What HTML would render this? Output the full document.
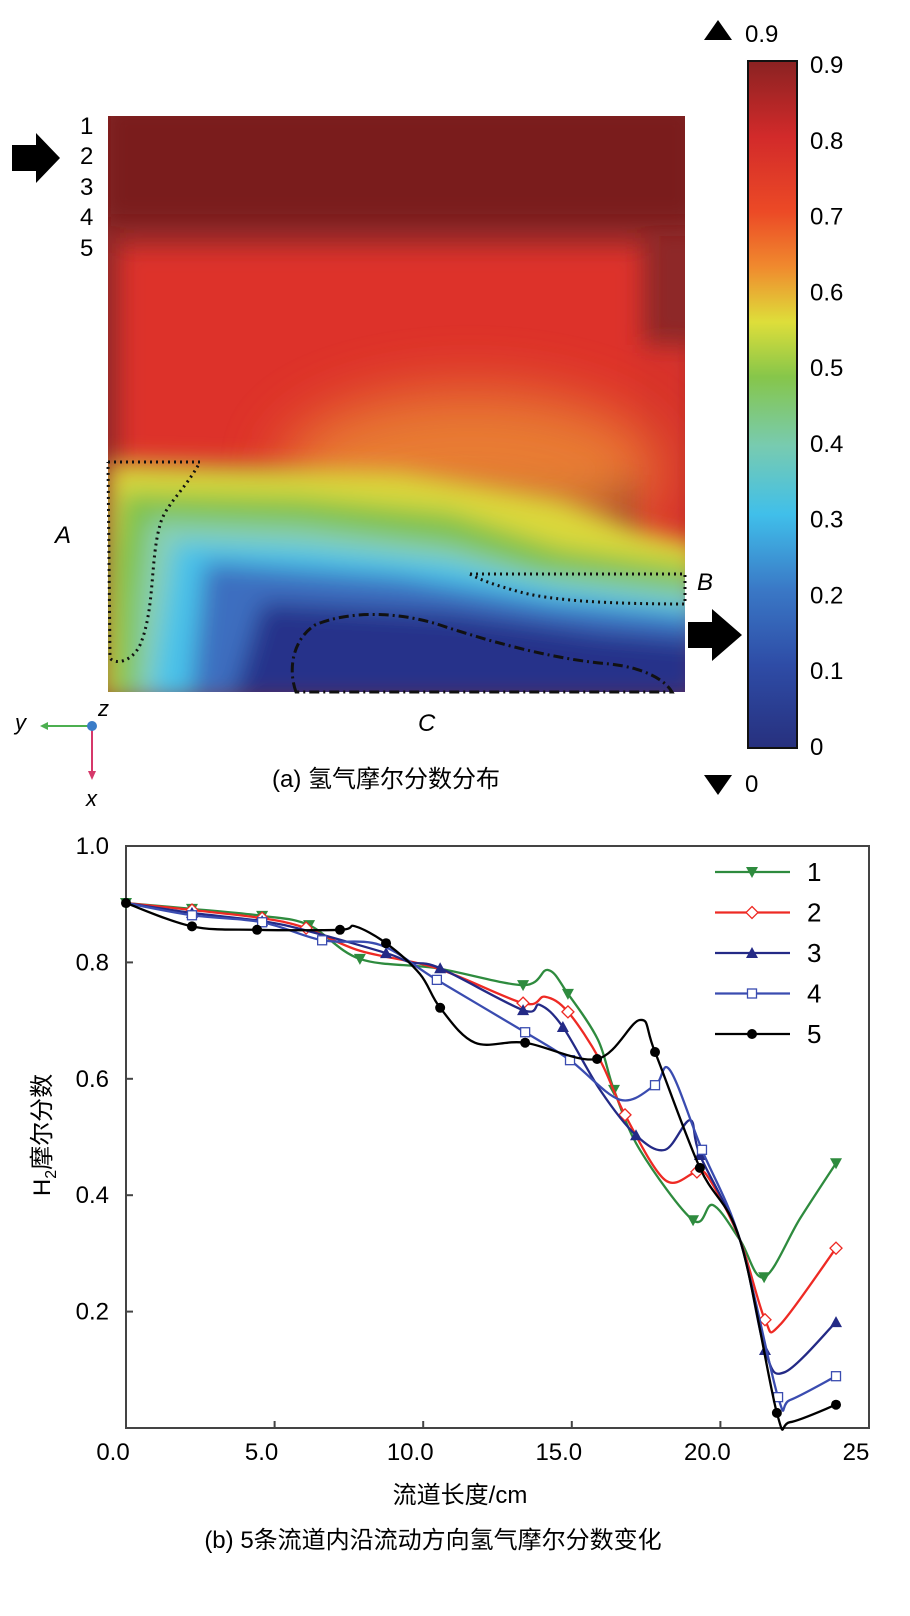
<!DOCTYPE html>
<html><head><meta charset="utf-8">
<style>
html,body{margin:0;padding:0;background:#fff;}
body{width:910px;height:1616px;position:relative;overflow:hidden;font-family:"Liberation Sans","Noto Sans CJK SC",sans-serif;}
svg{position:absolute;left:0;top:0;}
</style></head>
<body>
<svg id="fig" width="910" height="1616" viewBox="0 0 910 1616">
<defs>
<filter id="bl" x="-20%" y="-20%" width="140%" height="140%"><feGaussianBlur stdDeviation="12"/></filter>
<filter id="bl2" x="-50%" y="-50%" width="200%" height="200%"><feGaussianBlur stdDeviation="30"/></filter>
<clipPath id="hc"><rect x="108" y="116" width="577" height="576"/></clipPath>
<linearGradient id="cb" x1="0" y1="0" x2="0" y2="1">
<stop offset="0" stop-color="#8a2222"/>
<stop offset="0.11" stop-color="#d22a2a"/>
<stop offset="0.22" stop-color="#ec4a26"/>
<stop offset="0.3" stop-color="#f08a2e"/>
<stop offset="0.38" stop-color="#dede3a"/>
<stop offset="0.46" stop-color="#86c64a"/>
<stop offset="0.56" stop-color="#78cbb0"/>
<stop offset="0.66" stop-color="#40bfea"/>
<stop offset="0.77" stop-color="#3a78c6"/>
<stop offset="0.88" stop-color="#2e4ca6"/>
<stop offset="1" stop-color="#27307e"/>
</linearGradient>
</defs>

<!-- Heatmap -->
<g clip-path="url(#hc)">
<rect x="108" y="116" width="577" height="576" fill="#8e2828"/>
<g filter="url(#bl)">
<rect x="100" y="100" width="600" height="125" fill="#7a1e1e"/>
<rect x="118" y="245" width="525" height="230" fill="#dd302a"/>
<rect x="635" y="345" width="60" height="230" fill="#d8302a"/>
</g>
<ellipse cx="470" cy="470" rx="190" ry="80" fill="#ea8a36" opacity="0.85" filter="url(#bl2)"/>
<g filter="url(#bl)">
<polygon points="108,462 200,465 400,472 560,500 640,530 700,545 700,700 100,700" fill="#dcd83a"/>
<polygon points="122,492 300,497 450,512 560,548 700,568 700,700 112,700 112,560" fill="#80c24c"/>
<polygon points="150,520 300,526 450,545 540,572 700,590 700,700 135,700 140,600" fill="#88d0b4"/>
<polygon points="175,542 300,547 450,562 560,588 700,606 700,700 150,700" fill="#48c2ea"/>
<polygon points="205,562 400,577 550,602 700,617 700,700 190,700" fill="#3c6ec0"/>
<polygon points="262,602 450,612 600,632 700,640 700,700 232,700" fill="#28318a"/>
</g>
</g>
<g fill="none" stroke="#111" stroke-width="3">
<path stroke-dasharray="2 4" d="M108,462 L200,462 C185,490 165,505 160,525 C150,560 155,610 140,645 C132,662 115,665 110,658 L108,462"/>
<path stroke-dasharray="2 4" d="M470,574 L685,574 L685,604 C640,604 560,603 520,592 C495,585 480,580 470,574"/>
<path stroke-dasharray="10 4 2 4" d="M296,692 C288,670 292,640 315,625 C350,610 400,612 440,625 C500,645 560,660 610,664 C645,668 665,680 672,692 Z"/>
</g>

<g font-size="24" fill="#000">
<text x="80" y="134">1</text><text x="80" y="164">2</text><text x="80" y="195">3</text><text x="80" y="225">4</text><text x="80" y="256">5</text>
</g>
<polygon points="12,145 36,145 36,133 60,158 36,183 36,171 12,171" fill="#000"/>
<polygon points="688,622 712,622 712,609 742,635 712,661 712,648 688,648" fill="#000"/>
<text x="55" y="543" font-size="24" font-style="italic">A</text>
<text x="697" y="590" font-size="24" font-style="italic">B</text>
<text x="418" y="731" font-size="24" font-style="italic">C</text>

<g>
<line x1="92" y1="726" x2="46" y2="726" stroke="#4caf50" stroke-width="2"/>
<polygon points="40,726 48,722 48,730" fill="#4caf50"/>
<line x1="92" y1="726" x2="92" y2="772" stroke="#d6386a" stroke-width="2"/>
<polygon points="92,780 88,771 96,771" fill="#d6386a"/>
<circle cx="92" cy="726" r="5" fill="#3a7cc8"/>
<text x="15" y="730" font-size="22" font-style="italic">y</text>
<text x="98" y="716" font-size="22" font-style="italic">z</text>
<text x="86" y="806" font-size="22" font-style="italic">x</text>
</g>
<text x="272" y="787" font-size="24">(a)  氢气摩尔分数分布</text>

<g>
<rect x="748" y="61" width="49" height="687" fill="url(#cb)" stroke="#111" stroke-width="2"/>
<g id="cbticks" font-size="24"></g>
<polygon points="718,20 704,40 732,40" fill="#000"/>
<text x="745" y="42" font-size="24">0.9</text>
<polygon points="718,795 704,775 732,775" fill="#000"/>
<text x="745" y="792" font-size="24">0</text>
</g>

<g id="chart"></g>
<text transform="translate(50,1135) rotate(-90)" text-anchor="middle" font-size="24">H<tspan font-size="16" dy="6">2</tspan><tspan dy="-6">摩尔分数</tspan></text>
<text x="460" y="1503" text-anchor="middle" font-size="24">流道长度/cm</text>
<text x="433" y="1548" text-anchor="middle" font-size="24">(b) 5条流道内沿流动方向氢气摩尔分数变化</text>
</svg>

<script>
const cbTicks = [0,0.1,0.2,0.3,0.4,0.5,0.6,0.7,0.8,0.9];
const yTicks = [0.2,0.4,0.6,0.8,1.0];
const yTickLabels = ["0.2","0.4","0.6","0.8","1.0"];
const xTicks = [0,5,10,15,20,25];
const xTickLabels = ["0.0","5.0","10.0","15.0","20.0","25"];
const seriesNames = ["1","2","3","4","5"];
const s1x = [0,2.22,4.58,6.16,7.87,10.46,13.36,14.2,14.87,15.88,16.42,17.29,19.08,19.75,20.66,21.47,22.68,23.89];
const s1y = [0.902,0.892,0.880,0.864,0.806,0.790,0.761,0.787,0.746,0.667,0.581,0.478,0.357,0.383,0.323,0.259,0.36,0.455];
const s1m = [1,1,1,1,1,0,1,0,1,0,1,0,1,0,0,1,0,1];
const s2x = [0,2.22,4.58,6.06,7.87,10.46,13.36,14.10,14.87,15.95,16.79,18.14,19.21,19.65,20.66,21.5,22.0,23.89];
const s2y = [0.902,0.890,0.876,0.859,0.82,0.79,0.730,0.741,0.715,0.632,0.538,0.426,0.440,0.426,0.323,0.186,0.177,0.309];
const s2m = [0,1,1,1,0,0,1,0,1,0,1,0,1,0,0,1,0,1];
const s3x = [0,2.22,4.58,6.12,8.75,9.56,10.57,13.36,13.93,14.70,15.95,17.16,18.14,18.98,19.31,20.66,21.5,22.17,23.89];
const s3y = [0.902,0.885,0.871,0.854,0.816,0.80,0.790,0.718,0.727,0.689,0.581,0.503,0.478,0.529,0.469,0.323,0.134,0.096,0.182];
const s3m = [0,1,1,0,1,0,1,1,0,1,0,1,0,0,1,0,1,0,1];
const s4x = [0,2.22,4.58,6.6,8.55,10.46,13.43,14.94,16.62,17.8,18.3,19.38,20.66,21.94,22.34,23.89];
const s4y = [0.902,0.881,0.869,0.838,0.830,0.77,0.680,0.632,0.564,0.589,0.615,0.478,0.323,0.053,0.048,0.089];
const s4m = [0,1,1,1,0,1,1,1,0,1,0,1,0,1,0,1];
const s5x = [0,2.22,4.41,7.2,7.71,8.75,9.89,10.57,11.74,13.43,15.85,17.29,17.8,19.31,20.66,21.9,22.34,23.89];
const s5y = [0.902,0.862,0.856,0.856,0.862,0.833,0.78,0.722,0.662,0.662,0.634,0.701,0.646,0.447,0.323,0.026,0.010,0.040];
const s5m = [1,1,1,1,0,1,0,1,0,1,1,0,1,1,0,1,0,1];

const NS = "http://www.w3.org/2000/svg";
const L = 126, R = 869, T = 846, B = 1428;
function xs(v){ return L + v/25*(R-L); }
function ys(v){ return B - v/1.0*(B-T); }
function mk(tag, attrs, parent){ const e = document.createElementNS(NS, tag); for (const k in attrs) e.setAttribute(k, attrs[k]); parent.appendChild(e); return e; }

const cbg = document.getElementById('cbticks');
cbTicks.forEach(v => {
  const y = 746 - v/0.9*(746-64);
  const t = mk('text', {x: 810, y: y+9}, cbg);
  
  
  t.textContent = v === 0 ? "0" : v.toFixed(1);
});

const ch = document.getElementById('chart');
const frame = mk('rect', {x: L, y: T, width: R-L, height: B-T, fill: 'none', stroke: '#444', 'stroke-width': 2}, ch);


yTicks.forEach((v,i) => {
  const y = ys(v);
  const tk = mk('line', {x1: L, x2: L+7, y1: y, y2: y, stroke: '#444', 'stroke-width': 2}, ch);
  
  
  const t = mk('text', {x: L-17, y: y+8, 'text-anchor': 'end', 'font-size': 24}, ch);
  
  
  t.textContent = yTickLabels[i];
});
xTicks.forEach((v,i) => {
  const x = xs(v);
  const tk = mk('line', {x1: x, x2: x, y1: B, y2: B-7, stroke: '#444', 'stroke-width': 2}, ch);
  
  
  const t = mk('text', {x: x-13, y: B+32, 'text-anchor': 'middle', 'font-size': 24}, ch);
  
  
  t.textContent = xTickLabels[i];
});

function smoothPath(px, py){
  let d = 'M' + px[0] + ',' + py[0];
  for (let i = 0; i < px.length-1; i++){
    const x0 = px[Math.max(i-1,0)], y0 = py[Math.max(i-1,0)];
    const x1 = px[i], y1 = py[i], x2 = px[i+1], y2 = py[i+1];
    const x3 = px[Math.min(i+2,px.length-1)], y3 = py[Math.min(i+2,px.length-1)];
    const c1x = x1 + (x2-x0)/6, c1y = y1 + (y2-y0)/6;
    const c2x = x2 - (x3-x1)/6, c2y = y2 - (y3-y1)/6;
    d += ' C' + c1x + ',' + c1y + ' ' + c2x + ',' + c2y + ' ' + x2 + ',' + y2;
  }
  return d;
}
function marker(type, x, y, color, parent){
  let e;
  if (type === 'tdown') e = mk('polygon', {points: (x-6)+','+(y-5)+' '+(x+6)+','+(y-5)+' '+x+','+(y+6), fill: color}, parent);
  else if (type === 'tup') e = mk('polygon', {points: (x-6)+','+(y+5)+' '+(x+6)+','+(y+5)+' '+x+','+(y-6), fill: color}, parent);
  else if (type === 'diamond') e = mk('polygon', {points: x+','+(y-6)+' '+(x+6)+','+y+' '+x+','+(y+6)+' '+(x-6)+','+y, fill: '#fff', stroke: color, 'stroke-width': 1.3}, parent);
  else if (type === 'square') e = mk('rect', {x: x-4.5, y: y-4.5, width: 9, height: 9, fill: '#fff', stroke: color, 'stroke-width': 1.3}, parent);
  else e = mk('circle', {cx: x, cy: y, r: 5, fill: color}, parent);
  return e;
}
const series = [
  {x: s1x, y: s1y, m: s1m, c: '#2e8b3e', t: 'tdown'},
  {x: s2x, y: s2y, m: s2m, c: '#ee2a24', t: 'diamond'},
  {x: s3x, y: s3y, m: s3m, c: '#242a86', t: 'tup'},
  {x: s4x, y: s4y, m: s4m, c: '#3a4cb0', t: 'square'},
  {x: s5x, y: s5y, m: s5m, c: '#000000', t: 'circle'}
];
series.forEach((s, k) => {
  const g = mk('g', {}, ch);
  
  
  const px = s.x.map(xs), py = s.y.map(ys);
  const p = mk('path', {d: smoothPath(px, py), fill: 'none', stroke: s.c, 'stroke-width': 2.3}, g);
  
  
  px.forEach((x, i) => {
    if (!s.m[i]) return;
    const e = marker(s.t, x, py[i], s.c, g);
    
    
  });
  const ly = 872 + k*40.5;
  const lg = mk('g', {}, ch);
  
  
  mk('line', {x1: 715, x2: 790, y1: ly, y2: ly, stroke: s.c, 'stroke-width': 2.3}, lg);
  marker(s.t, 752, ly, s.c, lg);
  const t = mk('text', {x: 807, y: ly+9, 'font-size': 26}, lg);
  t.textContent = seriesNames[k];
});
</script>
</body></html>
